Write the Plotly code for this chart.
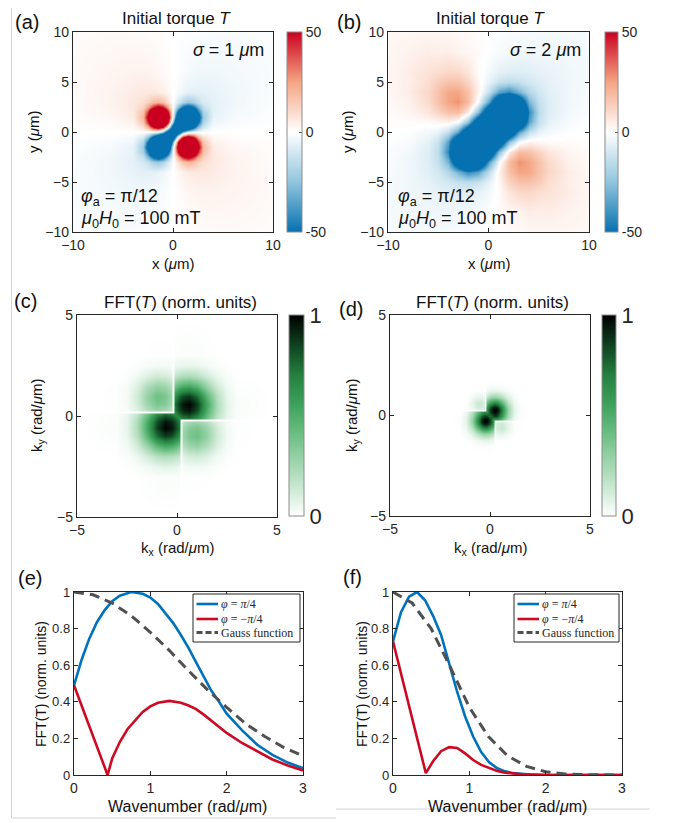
import plotly.graph_objects as go

# The page body has an 8px margin, so the figure is drawn 8px smaller and
# every position below is given in the reference picture's pixels.
OFF = 8
FW, FH = 673 - OFF, 823 - OFF
def px(x): return (x - OFF) / FW
def py(y): return 1 - (y - OFF) / FH

FONT = "Liberation Sans, Arial, sans-serif"
SERIF = "Liberation Serif, DejaVu Serif, serif"
INK = "#262626"

# ---------------- panel (a): torque, sigma = 1 um (values read on a grid) ----------------
xa = [-10, -6, -4, -3, -2.5, -2, -1.5, -1, -0.5, 0, 0.5, 1, 1.5, 2, 2.5, 3, 4, 6, 10]
ya = [-10, -6, -4, -3, -2.5, -2, -1.5, -1, -0.5, 0, 0.5, 1, 1.5, 2, 2.5, 3, 4, 6, 10]
ta = [
    [-1.0, -1.4, -1.2, -1.0, -0.9, -0.8, -0.6, -0.4, -0.2, 0, 0.2, 0.4, 0.6, 0.8, 0.9, 1.0, 1.2, 1.4, 1.0],
    [-1.4, -2.8, -3.5, -3.4, -3.2, -2.8, -2.3, -1.6, -0.8, 0, 0.8, 1.6, 2.3, 2.8, 3.2, 3.4, 3.5, 2.8, 1.4],
    [-1.2, -3.5, -5.5, -6.2, -6.3, -6.1, -5.4, -4.0, -2.2, 0, 2.2, 4.0, 5.4, 6.1, 6.3, 6.2, 5.5, 3.5, 1.2],
    [-1.0, -3.4, -6.2, -9.2, -13.5, -20, -22.8, -17.8, -9.4, -0.5, 8, 16, 20, 17.6, 12.4, 8.8, 6.2, 3.4, 1.0],
    [-0.9, -3.2, -6.3, -13.5, -29, -50, -63, -51, -26, -1.5, 22, 46, 57, 43.5, 24.5, 12.4, 6.3, 3.2, 0.9],
    [-0.8, -2.8, -6.1, -20, -48, -103, -137, -114, -56, -3, 48, 104, 126, 92, 43.5, 17.6, 6.1, 2.8, 0.8],
    [-0.6, -2.3, -5.4, -23, -64, -138, -195, -167, -84, -6.7, 63, 139, 172, 126, 57, 20, 5.4, 2.3, 0.6],
    [-0.4, -1.6, -4.0, -18, -52, -114, -167, -168, -111, -28, 47, 113, 139, 104, 46, 16.3, 4.0, 1.6, 0.4],
    [-0.2, -0.8, -2.2, -10, -26, -57, -86, -111, -116, -72, -1.4, 47, 63, 48, 22, 8.7, 2.2, 0.8, 0.2],
    [0, 0, 0, -0.5, -1.4, -2.6, -7.4, -28, -72, -101, -72, -28, -7.4, -2.6, -1.4, -0.5, 0, 0, 0],
    [0.2, 0.8, 2.2, 8.7, 22, 48, 63, 47, -1.4, -72, -116, -111, -86, -57, -26, -10, -2.2, -0.8, -0.2],
    [0.4, 1.6, 4.0, 16.3, 46, 104, 139, 113, 47, -28, -111, -168, -167, -114, -52, -18, -4.0, -1.6, -0.4],
    [0.6, 2.3, 5.4, 20, 57, 126, 172, 139, 63, -6.7, -84, -167, -195, -138, -64, -23, -5.4, -2.3, -0.6],
    [0.8, 2.8, 6.1, 17.6, 43.5, 92, 126, 104, 48, -3, -56, -114, -137, -103, -48, -20, -6.1, -2.8, -0.8],
    [0.9, 3.2, 6.3, 12.4, 24.5, 43.5, 57, 46, 22, -1.5, -26, -51, -63, -50, -29, -13.5, -6.3, -3.2, -0.9],
    [1.0, 3.4, 6.2, 8.8, 12.4, 17.6, 20, 16, 8, -0.5, -9.4, -17.8, -22.8, -20, -13.5, -9.2, -6.2, -3.4, -1.0],
    [1.2, 3.5, 5.5, 6.2, 6.3, 6.1, 5.4, 4.0, 2.2, 0, -2.2, -4.0, -5.4, -6.1, -6.3, -6.2, -5.5, -3.5, -1.2],
    [1.4, 2.8, 3.5, 3.4, 3.2, 2.8, 2.3, 1.6, 0.8, 0, -0.8, -1.6, -2.3, -2.8, -3.2, -3.4, -3.5, -2.8, -1.4],
    [1.0, 1.4, 1.2, 1.0, 0.9, 0.8, 0.6, 0.4, 0.2, 0, -0.2, -0.4, -0.6, -0.8, -0.9, -1.0, -1.2, -1.4, -1.0],
]

# ---------------- panel (b): torque, sigma = 2 um ----------------
xb = [-10, -8, -6, -5, -4, -3, -2, -1, 0, 1, 2, 3, 4, 5, 6, 8, 10]
yb = [-10, -8, -6, -5, -4, -3, -2, -1, 0, 1, 2, 3, 4, 5, 6, 8, 10]
tb = [
    [-2.0, -2.3, -2.4, -2.3, -2.1, -1.8, -1.3, -0.7, 0, 0.7, 1.3, 1.8, 2.1, 2.3, 2.4, 2.3, 2.0],
    [-2.3, -2.9, -3.4, -3.5, -3.6, -3.3, -2.8, -1.7, -0.5, 1.2, 2.3, 3.0, 5.0, 4.5, 5.0, 3.5, 2.3],
    [-2.4, -3.4, -5.0, -5.9, -7.0, -7.6, -7.6, -5.9, -2.8, 1.2, 7.0, 10.5, 11, 9.0, 8.0, 5.0, 2.4],
    [-2.3, -3.5, -5.9, -8, -10.3, -13.3, -15.1, -12.6, -5.6, 2.5, 12, 17, 17, 14, 9.0, 4.5, 2.3],
    [-2.1, -3.4, -7.0, -10.3, -17, -29.9, -42.7, -35.3, -13.8, 3.6, 17, 24.4, 24, 17, 11, 5.0, 2.1],
    [-1.8, -3.3, -7.6, -13.3, -29.9, -75, -117, -88.8, -35.6, -1.5, 18.5, 28.2, 24.4, 17, 10, 3.6, 1.8],
    [-1.3, -2.8, -7.6, -15.1, -42.7, -117, -175, -145, -81, -25.5, 6.1, 18.5, 17.3, 12, 7.0, 2.6, 1.3],
    [-0.7, -1.7, -5.9, -12.6, -35.3, -89, -145, -170, -138, -75, -25.5, -1.5, 3.6, 2.5, 1.2, 0.8, 0.7],
    [0, -0.5, -2.8, -5.6, -13.8, -35.6, -81, -138, -165, -138, -81, -35.6, -13.8, -5.6, -2.8, -0.5, 0],
    [0.7, 0.8, 1.2, 2.5, 3.6, -1.5, -25.5, -75, -138, -170, -145, -89, -35.3, -12.6, -5.9, -1.7, -0.7],
    [1.3, 2.6, 7.0, 12, 17.3, 18.5, 6.1, -25.5, -81, -145, -175, -117, -42.7, -15.1, -7.6, -2.8, -1.3],
    [1.8, 3.6, 10, 17, 24.4, 28.2, 18.5, -1.5, -35.6, -88.8, -117, -75, -29.9, -13.3, -7.6, -3.3, -1.8],
    [2.1, 5.0, 11, 17, 24, 24.4, 17, 3.6, -13.8, -35.3, -42.7, -29.9, -17, -10.3, -7.0, -3.4, -2.1],
    [2.3, 4.5, 9.0, 14, 17, 17, 12, 2.5, -5.6, -12.6, -15.1, -13.3, -10.3, -8, -5.9, -3.5, -2.3],
    [2.4, 5.0, 8.0, 9.0, 11, 10.5, 7.0, 1.2, -2.8, -5.9, -7.6, -7.6, -7.0, -5.9, -5.0, -3.4, -2.4],
    [2.3, 3.5, 5.0, 4.5, 5.0, 3.0, 2.3, 1.2, -0.5, -1.7, -2.8, -3.3, -3.6, -3.5, -3.4, -2.9, -2.3],
    [2.0, 2.3, 2.4, 2.3, 2.1, 1.8, 1.3, 0.7, 0, -0.7, -1.3, -1.8, -2.1, -2.3, -2.4, -2.3, -2.0],
]

# ---------------- panel (c): |FFT(T)|, sigma = 1 um ----------------
kc = [-5, -3, -2.5, -2, -1.5, -1, -0.6, -0.3, -0.2, -0.1, 0, 0.1, 0.2, 0.3, 0.6, 1, 1.5, 2, 2.5, 3, 5]
fc = [
    [0] * 21,
    [0, 0, 0.001, 0.003, 0.007, 0.012, 0.014, 0.013, 0.013, 0.012, 0.011, 0.010, 0, 0.004, 0.005, 0.005, 0.004, 0.002, 0, 0, 0],
    [0, 0.001, 0.004, 0.015, 0.035, 0.057, 0.066, 0.063, 0.061, 0.057, 0.053, 0.049, 0, 0.023, 0.030, 0.033, 0.024, 0.010, 0.003, 0, 0],
    [0, 0.003, 0.015, 0.05, 0.117, 0.193, 0.223, 0.213, 0.204, 0.193, 0.18, 0.165, 0, 0.087, 0.115, 0.126, 0.091, 0.039, 0.010, 0.002, 0],
    [0, 0.007, 0.035, 0.117, 0.275, 0.454, 0.524, 0.502, 0.481, 0.454, 0.423, 0.388, 0, 0.20, 0.265, 0.291, 0.209, 0.091, 0.024, 0.004, 0],
    [0, 0.012, 0.057, 0.193, 0.454, 0.749, 0.864, 0.828, 0.793, 0.749, 0.697, 0.64, 0, 0.278, 0.368, 0.405, 0.291, 0.126, 0.033, 0.005, 0],
    [0, 0.014, 0.066, 0.223, 0.524, 0.864, 0.996, 0.955, 0.915, 0.864, 0.804, 0.738, 0, 0.252, 0.334, 0.368, 0.265, 0.115, 0.030, 0.005, 0],
    [0, 0.013, 0.063, 0.213, 0.502, 0.828, 0.955, 0.915, 0.876, 0.828, 0.77, 0.707, 0, 0.19, 0.252, 0.278, 0.20, 0.087, 0.023, 0.004, 0],
    [0, 0.013, 0.061, 0.204, 0.481, 0.793, 0.915, 0.876, 0.839, 0.793, 0.738, 0.678, 0, 0, 0, 0, 0, 0, 0, 0, 0],
    [0, 0.012, 0.057, 0.193, 0.454, 0.749, 0.864, 0.828, 0.793, 0.749, 0.697, 0.64, 0.678, 0.707, 0.738, 0.64, 0.388, 0.165, 0.049, 0.010, 0],
    [0, 0.011, 0.053, 0.18, 0.423, 0.697, 0.804, 0.77, 0.738, 0.697, 0.649, 0.697, 0.738, 0.77, 0.804, 0.697, 0.423, 0.18, 0.053, 0.011, 0],
    [0, 0.010, 0.049, 0.165, 0.388, 0.64, 0.738, 0.707, 0.678, 0.64, 0.697, 0.749, 0.793, 0.828, 0.864, 0.749, 0.454, 0.193, 0.057, 0.012, 0],
    [0, 0, 0, 0, 0, 0, 0, 0, 0, 0.678, 0.738, 0.793, 0.839, 0.876, 0.915, 0.793, 0.481, 0.204, 0.061, 0.013, 0],
    [0, 0.004, 0.023, 0.087, 0.20, 0.278, 0.252, 0.19, 0, 0.707, 0.77, 0.828, 0.876, 0.915, 0.955, 0.828, 0.502, 0.213, 0.063, 0.013, 0],
    [0, 0.005, 0.030, 0.115, 0.265, 0.368, 0.334, 0.252, 0, 0.738, 0.804, 0.864, 0.915, 0.955, 0.996, 0.864, 0.524, 0.223, 0.066, 0.014, 0],
    [0, 0.005, 0.033, 0.126, 0.291, 0.405, 0.368, 0.278, 0, 0.64, 0.697, 0.749, 0.793, 0.828, 0.864, 0.749, 0.454, 0.193, 0.057, 0.012, 0],
    [0, 0.004, 0.024, 0.091, 0.209, 0.291, 0.265, 0.20, 0, 0.388, 0.423, 0.454, 0.481, 0.502, 0.524, 0.454, 0.275, 0.117, 0.035, 0.007, 0],
    [0, 0.002, 0.010, 0.039, 0.091, 0.126, 0.115, 0.087, 0, 0.165, 0.18, 0.193, 0.204, 0.213, 0.223, 0.193, 0.117, 0.05, 0.015, 0.003, 0],
    [0, 0, 0.003, 0.010, 0.024, 0.033, 0.030, 0.023, 0, 0.049, 0.053, 0.057, 0.061, 0.063, 0.066, 0.057, 0.035, 0.015, 0.004, 0.001, 0],
    [0, 0, 0, 0.002, 0.004, 0.005, 0.005, 0.004, 0, 0.010, 0.011, 0.012, 0.013, 0.013, 0.014, 0.012, 0.007, 0.003, 0.001, 0, 0],
    [0] * 21,
]

# ---------------- panel (d): |FFT(T)|, sigma = 2 um ----------------
kd = [-5, -2, -1.5, -1.2, -0.9, -0.6, -0.4, -0.3, -0.25, -0.15, 0, 0.15, 0.25, 0.3, 0.4, 0.6, 0.9, 1.2, 1.5, 2, 5]
fd = [
    [0] * 21,
    [0] * 21,
    [0, 0, 0, 0.001, 0.003, 0.007, 0.009, 0.01, 0.01, 0.01, 0.008, 0.006, 0, 0, 0, 0, 0, 0, 0, 0, 0],
    [0, 0, 0.001, 0.005, 0.019, 0.046, 0.062, 0.067, 0.068, 0.066, 0.058, 0.044, 0, 0.006, 0.008, 0.009, 0.004, 0.001, 0, 0, 0],
    [0, 0, 0.003, 0.019, 0.077, 0.188, 0.256, 0.274, 0.278, 0.272, 0.237, 0.181, 0, 0.045, 0.058, 0.066, 0.029, 0.004, 0, 0, 0],
    [0, 0, 0.007, 0.046, 0.188, 0.459, 0.625, 0.669, 0.678, 0.664, 0.58, 0.444, 0, 0.102, 0.132, 0.149, 0.066, 0.009, 0, 0, 0],
    [0, 0, 0.009, 0.062, 0.256, 0.625, 0.851, 0.911, 0.922, 0.905, 0.789, 0.604, 0, 0.090, 0.117, 0.132, 0.058, 0.008, 0, 0, 0],
    [0, 0, 0.010, 0.067, 0.274, 0.669, 0.911, 0.974, 0.986, 0.968, 0.844, 0.646, 0, 0.070, 0.090, 0.102, 0.045, 0.006, 0, 0, 0],
    [0, 0, 0.010, 0.068, 0.278, 0.678, 0.922, 0.986, 0.998, 0.979, 0.855, 0.654, 0, 0, 0, 0, 0, 0, 0, 0, 0],
    [0, 0, 0.010, 0.066, 0.272, 0.664, 0.905, 0.968, 0.979, 0.961, 0.838, 0.642, 0.654, 0.646, 0.604, 0.444, 0.181, 0.044, 0.006, 0, 0],
    [0, 0, 0.008, 0.058, 0.237, 0.58, 0.789, 0.844, 0.855, 0.838, 0.731, 0.838, 0.855, 0.844, 0.789, 0.58, 0.237, 0.058, 0.008, 0, 0],
    [0, 0, 0.006, 0.044, 0.181, 0.444, 0.604, 0.646, 0.654, 0.642, 0.838, 0.961, 0.979, 0.968, 0.905, 0.664, 0.272, 0.066, 0.010, 0, 0],
    [0, 0, 0, 0, 0, 0, 0, 0, 0, 0.654, 0.855, 0.979, 0.998, 0.986, 0.922, 0.678, 0.278, 0.068, 0.010, 0, 0],
    [0, 0, 0, 0.006, 0.045, 0.102, 0.090, 0.070, 0, 0.646, 0.844, 0.968, 0.986, 0.974, 0.911, 0.669, 0.274, 0.067, 0.010, 0, 0],
    [0, 0, 0, 0.008, 0.058, 0.132, 0.117, 0.090, 0, 0.604, 0.789, 0.905, 0.922, 0.911, 0.851, 0.625, 0.256, 0.062, 0.009, 0, 0],
    [0, 0, 0, 0.009, 0.066, 0.149, 0.132, 0.102, 0, 0.444, 0.58, 0.664, 0.678, 0.669, 0.625, 0.459, 0.188, 0.046, 0.007, 0, 0],
    [0, 0, 0, 0.004, 0.029, 0.066, 0.058, 0.045, 0, 0.181, 0.237, 0.272, 0.278, 0.274, 0.256, 0.188, 0.077, 0.019, 0.003, 0, 0],
    [0, 0, 0, 0.001, 0.004, 0.009, 0.008, 0.006, 0, 0.044, 0.058, 0.066, 0.068, 0.067, 0.062, 0.046, 0.019, 0.005, 0.001, 0, 0],
    [0, 0, 0, 0, 0, 0, 0, 0, 0, 0.006, 0.008, 0.01, 0.01, 0.01, 0.009, 0.007, 0.003, 0.001, 0, 0, 0],
    [0] * 21,
    [0] * 21,
]

# ---------------- panel (e): line cuts, sigma = 1 um ----------------
k_e_blue = [0, 0.1, 0.2, 0.3, 0.4, 0.5, 0.6, 0.75, 0.9, 1.0, 1.1, 1.2, 1.3, 1.4, 1.5, 1.6, 1.7, 1.8, 1.9, 2.0, 2.2, 2.4, 2.6, 2.8, 3.0]
e_blue = [0.49, 0.63, 0.745, 0.835, 0.90, 0.95, 0.98, 1.0, 0.99, 0.97, 0.935, 0.885, 0.83, 0.765, 0.695, 0.615, 0.535, 0.46, 0.40, 0.335, 0.245, 0.165, 0.11, 0.068, 0.037]
k_e_red = [0, 0.44, 0.5, 0.6, 0.7, 0.8, 0.9, 1.0, 1.1, 1.25, 1.4, 1.5, 1.6, 1.7, 1.8, 1.9, 2.0, 2.2, 2.4, 2.6, 2.8, 3.0]
e_red = [0.49, 0.0, 0.09, 0.18, 0.25, 0.30, 0.345, 0.375, 0.395, 0.405, 0.395, 0.38, 0.36, 0.33, 0.295, 0.26, 0.23, 0.175, 0.128, 0.085, 0.052, 0.025]
k_e_gauss = [0, 0.25, 0.5, 0.75, 1.0, 1.25, 1.5, 1.75, 2.0, 2.25, 2.5, 2.75, 3.0]
e_gauss = [1.0, 0.985, 0.94, 0.87, 0.78, 0.68, 0.57, 0.465, 0.37, 0.28, 0.21, 0.15, 0.105]

# ---------------- panel (f): line cuts, sigma = 2 um ----------------
k_f_blue = [0, 0.105, 0.21, 0.315, 0.42, 0.525, 0.63, 0.735, 0.84, 0.945, 1.05, 1.155, 1.26, 1.365, 1.47, 1.575, 1.68, 1.8, 2.0, 2.5, 3.0]
f_blue = [0.73, 0.89, 0.975, 1.0, 0.955, 0.87, 0.765, 0.61, 0.455, 0.32, 0.21, 0.125, 0.07, 0.037, 0.02, 0.01, 0.005, 0.002, 0.0, 0.0, 0.0]
k_f_red = [0, 0.43, 0.525, 0.63, 0.735, 0.84, 0.945, 1.05, 1.155, 1.26, 1.365, 1.47, 1.575, 1.68, 1.8, 2.0, 2.5, 3.0]
f_red = [0.73, 0.01, 0.075, 0.13, 0.152, 0.148, 0.118, 0.082, 0.055, 0.038, 0.022, 0.013, 0.007, 0.004, 0.002, 0.0, 0.0, 0.0]
k_f_gauss = [0, 0.25, 0.5, 0.75, 1.0, 1.25, 1.5, 1.75, 2.0, 2.25, 2.5, 2.75, 3.0]
f_gauss = [1.0, 0.94, 0.80, 0.59, 0.37, 0.21, 0.105, 0.047, 0.018, 0.006, 0.002, 0.0, 0.0]

legend_labels = ["<i>φ</i> = <i>π</i>/4", "<i>φ</i> = −<i>π</i>/4", "Gauss function"]

# ---------------- styles ----------------
rdbu = [[0, "#0571b0"], [0.25, "#92c5de"], [0.5, "#ffffff"], [0.75, "#f4a582"], [1, "#ca0020"]]
greens = [[0, "#ffffff"], [0.08, "#e0f2e5"], [0.2, "#b5dfc0"], [0.4, "#6fc085"], [0.55, "#3ea35c"],
          [0.7, "#25803f"], [0.85, "#0e4220"], [1, "#000000"]]

BLUE = "#0072BD"
RED = "#CC0A24"
GRAY = "#505050"
STYLES = [dict(color=BLUE, width=2.6), dict(color=RED, width=2.6), dict(color=GRAY, width=3, dash="10px,6px")]

def cbar(x0, x1, y0, y1, vals, txt, fs):
    return dict(x=px(x0), xanchor="left", xref="paper", y=py((y0 + y1) / 2), yanchor="middle",
                len=(y1 - y0) / FH, lenmode="fraction", thickness=x1 - x0, thicknessmode="pixels",
                xpad=0, ypad=0, outlinecolor="#8c8c8c", outlinewidth=1,
                tickvals=vals, ticktext=txt, ticks="inside", ticklen=3, tickcolor="#555",
                tickfont=dict(family=FONT, size=fs, color=INK))

fig = go.Figure()
fig.add_trace(go.Heatmap(x=xa, y=ya, z=ta, zmin=-50, zmax=50, colorscale=rdbu, zsmooth="best",
                         xaxis="x", yaxis="y", colorbar=cbar(287, 302, 32, 232, [-50, 0, 50], ["-50", "0", "50"], 14)))
fig.add_trace(go.Heatmap(x=xb, y=yb, z=tb, zmin=-50, zmax=50, colorscale=rdbu, zsmooth="best",
                         xaxis="x2", yaxis="y2", colorbar=cbar(605, 618, 32, 232, [-50, 0, 50], ["-50", "0", "50"], 14)))
fig.add_trace(go.Heatmap(x=kc, y=kc, z=fc, zmin=0, zmax=1, colorscale=greens, zsmooth="best",
                         xaxis="x3", yaxis="y3", colorbar=cbar(289, 304, 315, 516, [0, 1], ["0", "1"], 22)))
fig.add_trace(go.Heatmap(x=kd, y=kd, z=fd, zmin=0, zmax=1, colorscale=greens, zsmooth="best",
                         xaxis="x4", yaxis="y4", colorbar=cbar(602, 616, 315, 516, [0, 1], ["0", "1"], 22)))

for (ax, ay, series) in [
    ("x5", "y5", [(k_e_blue, e_blue), (k_e_red, e_red), (k_e_gauss, e_gauss)]),
    ("x6", "y6", [(k_f_blue, f_blue), (k_f_red, f_red), (k_f_gauss, f_gauss)]),
]:
    for (kk, vv), st, nm in zip(series, STYLES, legend_labels):
        fig.add_trace(go.Scatter(x=kk, y=vv, mode="lines", name=nm, line=st, showlegend=False,
                                 xaxis=ax, yaxis=ay))

def axis(dom, rng, tv, anchor, fs=14):
    return dict(domain=dom, range=rng, tickvals=tv, anchor=anchor, showline=True, linecolor=INK,
                linewidth=1.4, mirror="ticks", ticks="inside", ticklen=4, tickwidth=1, tickcolor=INK,
                showgrid=False, zeroline=False, fixedrange=True, automargin=False,
                tickfont=dict(family=FONT, size=fs, color=INK))

yt = [0, 0.2, 0.4, 0.6, 0.8, 1]
fig.update_layout(
    xaxis=axis([px(73), px(273)], [-10, 10], [-10, 0, 10], "y"),
    yaxis=axis([py(232), py(32)], [-10, 10], [-10, -5, 0, 5, 10], "x"),
    xaxis2=axis([px(388), px(589)], [-10, 10], [-10, 0, 10], "y2"),
    yaxis2=axis([py(232), py(32)], [-10, 10], [-10, -5, 0, 5, 10], "x2"),
    xaxis3=axis([px(77), px(277)], [-5, 5], [-5, 0, 5], "y3"),
    yaxis3=axis([py(517), py(315)], [-5, 5], [-5, 0, 5], "x3"),
    xaxis4=axis([px(390), px(590)], [-5, 5], [-5, 0, 5], "y4"),
    yaxis4=axis([py(516), py(315)], [-5, 5], [-5, 0, 5], "x4"),
    xaxis5=axis([px(74), px(303)], [0, 3], [0, 1, 2, 3], "y5"),
    yaxis5=axis([py(775), py(592)], [0, 1], yt, "x5", fs=13),
    xaxis6=axis([px(393), px(622)], [0, 3], [0, 1, 2, 3], "y6"),
    yaxis6=axis([py(775), py(592)], [0, 1], yt, "x6", fs=13),
)

ann = []
def T(text, x, y, size=14, xanchor="center", angle=0, family=FONT, color="#111"):
    ann.append(dict(text=text, x=px(x), y=py(y), xref="paper", yref="paper", showarrow=False,
                    xanchor=xanchor, yanchor="middle", textangle=angle,
                    font=dict(family=family, size=size, color=color)))

for lab, x, y in [("(a)", 27, 22), ("(b)", 349, 22), ("(c)", 25, 301), ("(d)", 351, 309), ("(e)", 30, 578), ("(f)", 352, 577)]:
    T(lab, x, y, 20)
T("Initial torque <i>T</i>", 176, 18, 17)
T("Initial torque <i>T</i>", 490, 18, 17)
T("FFT(<i>T</i>) (norm. units)", 180, 302, 17)
T("FFT(<i>T</i>) (norm. units)", 492, 302, 17)
T("x (<i>μ</i>m)", 173, 264, 15)
T("x (<i>μ</i>m)", 489, 264, 15)
T("y (<i>μ</i>m)", 33, 132, 15, angle=-90)
T("y (<i>μ</i>m)", 347, 132, 15, angle=-90)
T("k<sub>x</sub> (rad/<i>μ</i>m)", 177, 548, 15)
T("k<sub>x</sub> (rad/<i>μ</i>m)", 490, 548, 15)
T("k<sub>y</sub> (rad/<i>μ</i>m)", 37, 416, 15, angle=-90)
T("k<sub>y</sub> (rad/<i>μ</i>m)", 352, 416, 15, angle=-90)
T("FFT(T) (norm. units)", 41, 684, 14, angle=-90)
T("FFT(T) (norm. units)", 362, 684, 14, angle=-90)
T("Wavenumber (rad/<i>μ</i>m)", 187, 806, 16)
T("Wavenumber (rad/<i>μ</i>m)", 507, 806, 16)
T("<i>σ</i> = 1 <i>μ</i>m", 266, 50, 18, xanchor="right")
T("<i>σ</i> = 2 <i>μ</i>m", 583, 50, 18, xanchor="right")
T("<i>φ</i><sub>a</sub> = π/12", 79, 197, 18, xanchor="left")
T("<i>μ</i><sub>0</sub><i>H</i><sub>0</sub> = 100 mT", 79, 219, 18, xanchor="left")
T("<i>φ</i><sub>a</sub> = π/12", 396, 197, 18, xanchor="left")
T("<i>μ</i><sub>0</sub><i>H</i><sub>0</sub> = 100 mT", 396, 219, 18, xanchor="left")

shapes = []
def L(x0, y0, x1, y1, color="#d4d4d4", width=1, dash=None, layer="below"):
    ln = dict(color=color, width=width)
    if dash:
        ln["dash"] = dash
    shapes.append(dict(type="line", xref="paper", yref="paper", x0=px(x0), y0=py(y0), x1=px(x1), y1=py(y1),
                       line=ln, layer=layer))
# faint page frame seen in the reference
L(11.5, 8, 11.5, 818)
L(11.5, 818, 336, 818)
L(336, 809, 650, 809)

# legends drawn as boxes with sample lines (compact, as in the reference)
for (bx0, bx1) in [(193, 300), (514, 619)]:
    shapes.append(dict(type="rect", xref="paper", yref="paper", x0=px(bx0), x1=px(bx1), y0=py(642), y1=py(594),
                       line=dict(color=INK, width=1), fillcolor="white", layer="above"))
    for i, (yy, st, nm) in enumerate(zip([604, 619, 632.5], STYLES, legend_labels)):
        L(bx0 + 3.5, yy, bx0 + 25, yy, color=st["color"], width=st["width"],
          dash=("6px,3px" if i == 2 else None), layer="above")
        T(nm, bx0 + 26, yy, 12, xanchor="left", family=SERIF, color=INK)

fig.update_layout(width=FW, height=FH, margin=dict(l=0, r=0, t=0, b=0, autoexpand=False),
                  paper_bgcolor="white", plot_bgcolor="white", annotations=ann, shapes=shapes,
                  font=dict(family=FONT, color=INK), showlegend=False)

fig.write_html("out.html")
